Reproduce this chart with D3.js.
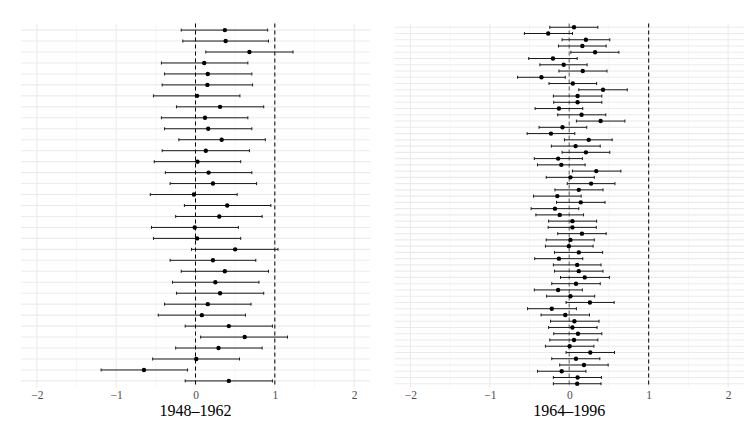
<!DOCTYPE html>
<html>
<head>
<meta charset="utf-8">
<script src="https://cdn.jsdelivr.net/npm/d3@7"></script>
<style>
  body { margin: 0; background: #fff; }
  svg text { font-family: "Liberation Serif", "Times New Roman", "DejaVu Serif", serif; }
</style>
</head>
<body>
<div id="chart"></div>
<script>
// Schätzwerte mit Konfidenzintervall, von oben nach unten
const leftEst = [0.37, 0.38, 0.68, 0.11, 0.155, 0.15, 0.02, 0.31, 0.12, 0.16, 0.33, 0.13, 0.025, 0.165, 0.22, -0.02, 0.40,
                 0.30, -0.01, 0.02, 0.50, 0.22, 0.37, 0.25, 0.31, 0.155, 0.08, 0.42, 0.62, 0.29, 0.01, -0.65, 0.42];
const leftLo  = [-0.18, -0.16, 0.13, -0.43, -0.39, -0.42, -0.53, -0.24, -0.43, -0.39, -0.21, -0.42, -0.52, -0.38, -0.32, -0.57, -0.14,
                 -0.25, -0.555, -0.53, -0.05, -0.32, -0.18, -0.29, -0.24, -0.39, -0.47, -0.13, 0.065, -0.25, -0.54, -1.19, -0.13];
const leftHi  = [0.91, 0.92, 1.23, 0.66, 0.71, 0.72, 0.56, 0.86, 0.66, 0.71, 0.88, 0.68, 0.57, 0.71, 0.77, 0.525, 0.95,
                 0.84, 0.54, 0.57, 1.04, 0.76, 0.92, 0.80, 0.86, 0.70, 0.63, 0.97, 1.16, 0.84, 0.555, -0.10, 0.97];

const rightEst = [0.06, -0.265, 0.21, 0.165, 0.325, -0.205, -0.07, 0.17, -0.35, 0.045, 0.425, 0.105,
                  0.105, -0.13, 0.155, 0.395, -0.085, -0.23, 0.245, 0.08, 0.21, -0.14, -0.10, 0.34,
                  0.015, 0.275, 0.12, -0.15, 0.145, -0.18, -0.12, 0.04, 0.04, 0.16, 0.015, -0.005,
                  0.12, -0.13, 0.10, 0.12, 0.195, 0.085, -0.14, 0.015, 0.26, -0.22, -0.05, 0.065,
                  0.04, 0.11, 0.06, 0.005, 0.265, 0.085, 0.185, -0.095, 0.105, 0.10];
const rightLo  = [-0.245, -0.565, -0.09, -0.135, 0.02, -0.51, -0.37, -0.13, -0.65, -0.255, 0.12, -0.20,
                  -0.195, -0.43, -0.145, 0.09, -0.38, -0.53, -0.06, -0.225, -0.09, -0.44, -0.40, 0.04,
                  -0.29, -0.025, -0.18, -0.45, -0.16, -0.48, -0.42, -0.26, -0.265, -0.145, -0.29, -0.30,
                  -0.185, -0.435, -0.20, -0.185, -0.11, -0.22, -0.44, -0.285, -0.04, -0.525, -0.355, -0.235,
                  -0.26, -0.195, -0.245, -0.30, -0.04, -0.22, -0.12, -0.40, -0.20, -0.20];
const rightHi  = [0.36, 0.04, 0.51, 0.465, 0.625, 0.10, 0.225, 0.475, -0.05, 0.345, 0.73, 0.41,
                  0.41, 0.17, 0.46, 0.70, 0.22, 0.07, 0.54, 0.39, 0.51, 0.165, 0.20, 0.65,
                  0.315, 0.575, 0.425, 0.15, 0.45, 0.12, 0.18, 0.345, 0.34, 0.465, 0.315, 0.30,
                  0.42, 0.17, 0.40, 0.425, 0.505, 0.39, 0.165, 0.32, 0.565, 0.09, 0.255, 0.375,
                  0.35, 0.41, 0.36, 0.31, 0.57, 0.385, 0.49, 0.21, 0.405, 0.40];

const panelTitles = ["1948\u20131962", "1964\u20131996"];
const majorTicks = [-2, -1, 0, 1, 2];
const minorTicks = [-1.5, -0.5, 0.5, 1.5];
const refLines = [0, 1];

const width = 747, height = 421;
const svg = d3.select("#chart").append("svg")
    .attr("width", width)
    .attr("height", height);

const panels = [
    {est: leftEst, lo: leftLo, hi: leftHi, title: panelTitles[0], x0: 21, x1: 370, zeroColor: "#000"},
    {est: rightEst, lo: rightLo, hi: rightHi, title: panelTitles[1], x0: 394.5, x1: 744, zeroColor: "#888"}
];

const panelTop = 23.5, panelBottom = 387.5;
const serif = "'Liberation Serif', 'Times New Roman', 'DejaVu Serif', serif";

panels.forEach(function(p) {
    const rows = p.est.map((d, i) => ({est: d, lo: p.lo[i], hi: p.hi[i], i: i}));

    const x = d3.scaleLinear().domain([-2.2, 2.2]).range([p.x0, p.x1]);
    const y = d3.scalePoint().domain(rows.map(d => d.i)).range([panelTop, panelBottom]).padding(0.6);

    const g = svg.append("g");

    // Gitter
    g.append("g").selectAll("line")
        .data(minorTicks)
        .enter().append("line")
        .attr("x1", d => x(d)).attr("x2", d => x(d))
        .attr("y1", panelTop).attr("y2", panelBottom)
        .style("stroke", "#f2f2f2").style("stroke-width", 0.6);

    g.append("g").selectAll("line")
        .data(majorTicks)
        .enter().append("line")
        .attr("x1", d => x(d)).attr("x2", d => x(d))
        .attr("y1", panelTop).attr("y2", panelBottom)
        .style("stroke", "#ebebeb").style("stroke-width", 1.1);

    g.append("g").selectAll("line")
        .data(rows)
        .enter().append("line")
        .attr("x1", p.x0).attr("x2", p.x1)
        .attr("y1", d => y(d.i)).attr("y2", d => y(d.i))
        .style("stroke", "#ebebeb").style("stroke-width", 1.1);

    // gestrichelte Referenzlinien bei 0 und 1
    g.append("g").selectAll("line")
        .data(refLines)
        .enter().append("line")
        .attr("x1", d => x(d)).attr("x2", d => x(d))
        .attr("y1", panelTop).attr("y2", panelBottom)
        .style("stroke", d => d === 0 ? p.zeroColor : "#000")
        .style("stroke-width", d => d === 0 && p.zeroColor !== "#000" ? 1.4 : 1)
        .style("stroke-dasharray", "4,3");

    // Fehlerbalken
    const bars = g.append("g").selectAll("g")
        .data(rows)
        .enter().append("g")
        .style("stroke", "#1a1a1a")
        .style("stroke-width", 1);

    bars.append("line")
        .attr("x1", d => x(d.lo)).attr("x2", d => x(d.hi))
        .attr("y1", d => y(d.i)).attr("y2", d => y(d.i));

    bars.append("line")
        .attr("x1", d => x(d.lo)).attr("x2", d => x(d.lo))
        .attr("y1", d => y(d.i) - 1.5).attr("y2", d => y(d.i) + 1.5);

    bars.append("line")
        .attr("x1", d => x(d.hi)).attr("x2", d => x(d.hi))
        .attr("y1", d => y(d.i) - 1.5).attr("y2", d => y(d.i) + 1.5);

    g.append("g").selectAll("circle")
        .data(rows)
        .enter().append("circle")
        .attr("cx", d => x(d.est))
        .attr("cy", d => y(d.i))
        .attr("r", 2.2)
        .attr("fill", "#000");

    // Achse ohne Linie
    const axis = g.append("g")
        .attr("transform", "translate(0," + panelBottom + ")")
        .call(d3.axisBottom(x).tickValues(majorTicks).tickSize(0).tickPadding(3.5)
            .tickFormat(d => d < 0 ? "\u2212" + Math.abs(d) : d));
    axis.attr("font-family", serif).attr("font-size", 11.5);
    axis.select(".domain").remove();
    axis.selectAll("text")
        .attr("fill", "#4d4d4d");

    g.append("text")
        .attr("x", x(0))
        .attr("y", 416)
        .attr("text-anchor", "middle")
        .attr("font-family", serif)
        .attr("font-size", 16)
        .attr("fill", "#000")
        .text(p.title);
});
</script>
</body>
</html>
